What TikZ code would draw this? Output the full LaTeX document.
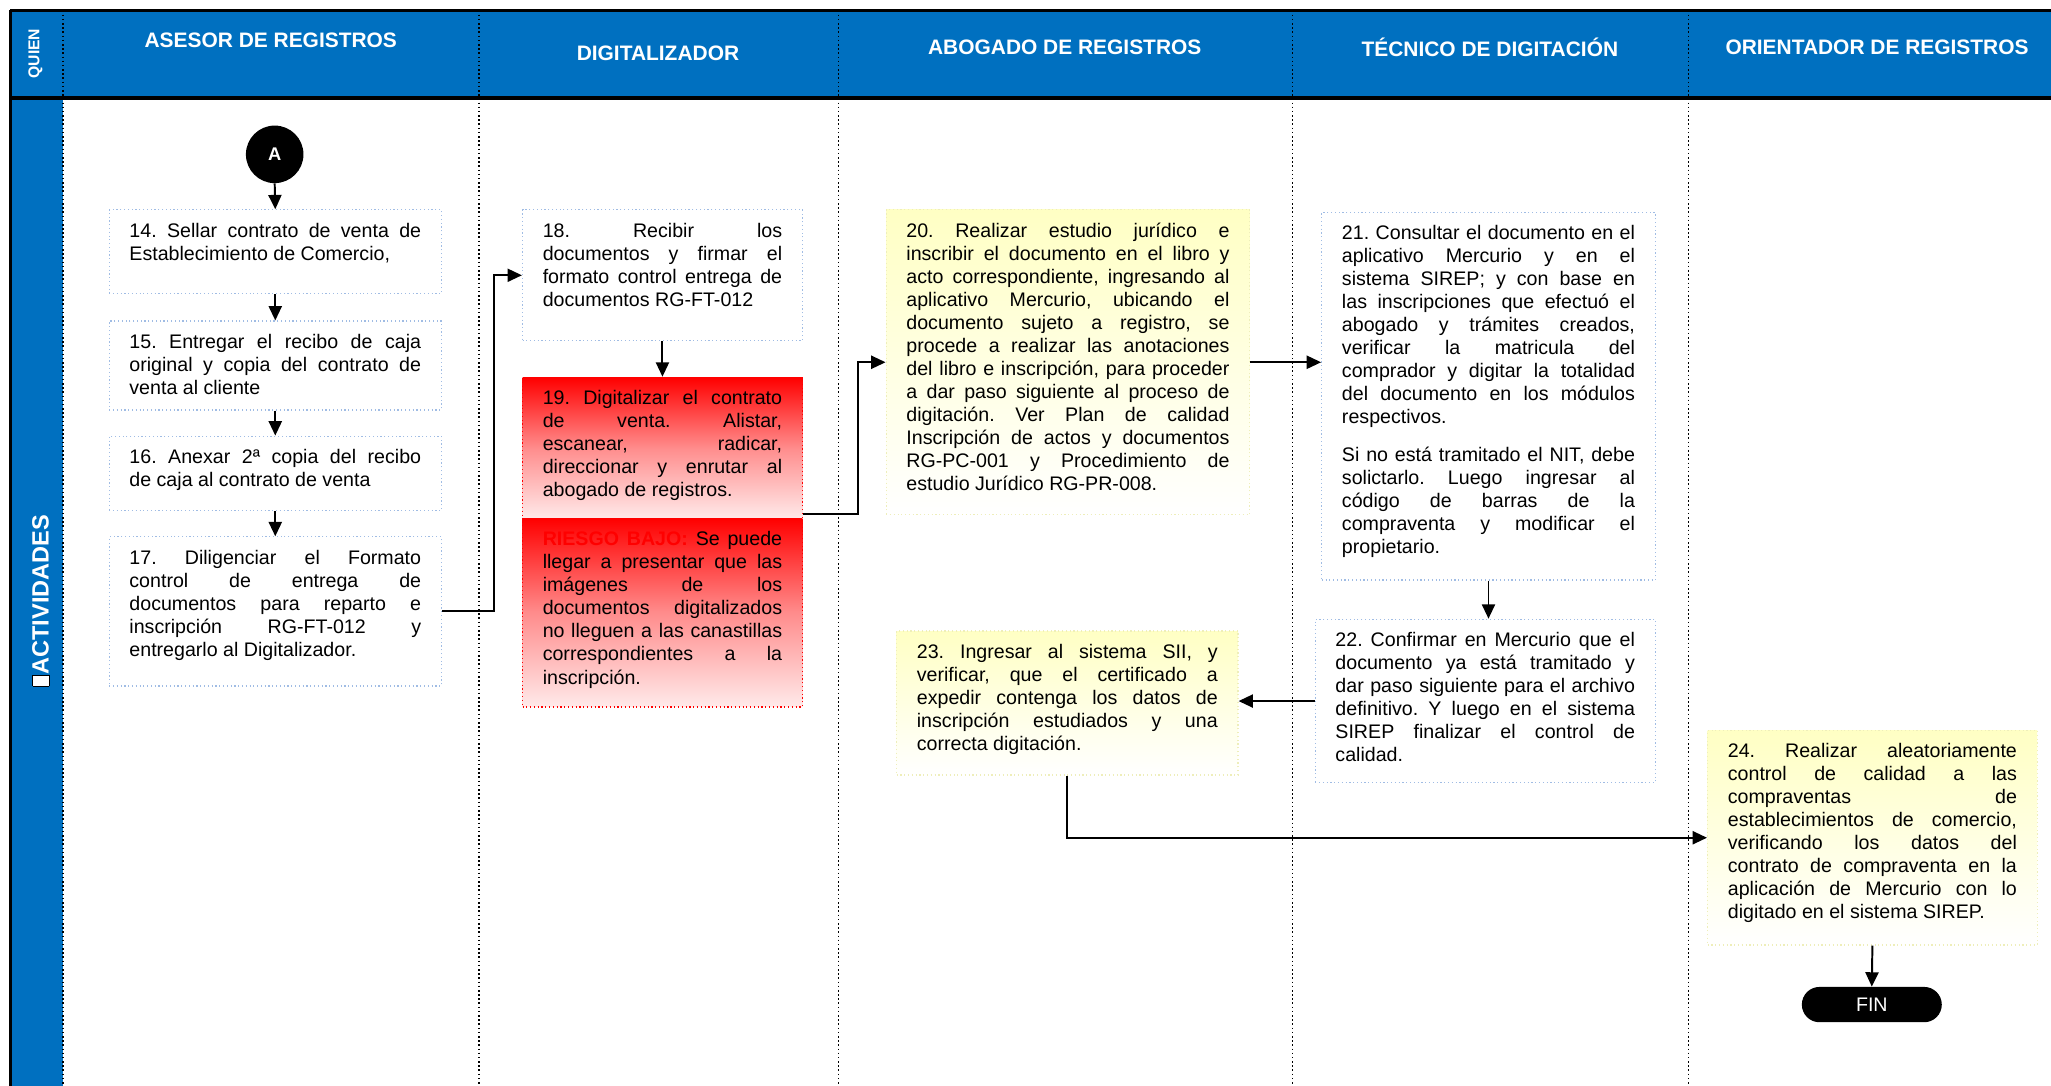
\documentclass[tikz,border=0pt]{standalone}
\usepackage{fontspec}
\setmainfont{Liberation Sans}
\usetikzlibrary{calc}
\usetikzlibrary{arrows.meta}

\definecolor{cabecera}{RGB}{0,112,192}
\definecolor{bordeazul}{RGB}{160,188,228}
\definecolor{amarillo}{RGB}{255,255,196}
\definecolor{bordeamarillo}{RGB}{238,238,186}
\definecolor{rosa}{RGB}{255,234,234}
\definecolor{rojo}{RGB}{255,0,0}

\frenchspacing
\newcommand{\caja}[3]{\parbox[c][#2pt][t]{#1pt}{\hyphenpenalty=10000\exhyphenpenalty=10000\tolerance=10000 #3}}

\tikzset{
  carril/.style={dotted, line width=1.2pt},
  paso/.style={draw=bordeazul, dotted, line width=0.9pt, inner xsep=15.5pt, inner ysep=10pt, anchor=north west, font=\fontsize{15}{17.6}\selectfont},
  pasoamarillo/.style={paso, draw=bordeamarillo, top color=amarillo, bottom color=white},
  pasorojo/.style={paso, draw=rojo, top color=rojo, bottom color=rosa, middle color=rojo!45!white},
  titulo/.style={text=white, font=\fontsize{16}{19}\bfseries},
  flecha/.style={-{Triangle[length=11pt,width=10pt]}, line width=1.5pt},
}

\begin{document}
\begin{tikzpicture}[x=1pt,y=-1pt]
\useasboundingbox (0,0) rectangle (1568,830);
\fill[cabecera] (8,8) rectangle (1568,75);
\fill[cabecera] (8,75) rectangle (48,830);
\foreach \x in {48,366,641,988,1291} \draw[carril] (\x,8) -- (\x,830);
\draw[line width=2.5pt] (8,8) -- (1568,8);
\draw[line width=2.5pt] (8,75) -- (1568,75);
\draw[line width=2.5pt] (8,8) -- (8,830);

\node[titulo, rotate=90, font=\fontsize{12}{14}\bfseries] (quien) at (27,41) {QUIEN};
\node[titulo] (asesor) at (207,31) {ASESOR DE REGISTROS};
\node[titulo] (digitalizador) at (503,41) {DIGITALIZADOR};
\node[titulo] (abogado) at (814,36) {ABOGADO DE REGISTROS};
\node[titulo] (tecnico) at (1139,36) {TÉCNICO DE DIGITACIÓN};
\node[titulo] (orientador) at (1435,36) {ORIENTADOR DE REGISTROS};
\node[titulo, rotate=90, anchor=west, font=\fontsize{18}{20}\bfseries] (actividades) at (31,528) {\fboxsep=0pt\fcolorbox{black}{white}{\rule{0pt}{12pt}\hspace{8pt}}ACTIVIDADES};

\node[circle, fill=black, minimum size=44pt, inner sep=0pt, text=white, font=\fontsize{14}{16}\bfseries] (a) at (210,118) {A};
\node[paso] (p14) at (83,160) {\caja{223}{44}{14. Sellar contrato de venta de\linebreak Establecimiento de Comercio,}};
\node[paso] (p15) at (83,245) {\caja{223}{48}{15. Entregar el recibo de caja\linebreak original y copia del contrato de\linebreak venta al cliente}};
\node[paso] (p16) at (83,333) {\caja{223}{37}{16. Anexar 2ª copia del recibo\linebreak de caja al contrato de venta}};
\node[paso] (p17) at (83,410) {\caja{223}{94}{17. Diligenciar el Formato\linebreak control de entrega de\linebreak documentos para reparto e\linebreak inscripción RG-FT-012 y\linebreak entregarlo al Digitalizador.}};

\node[paso] (p18) at (399,160) {\caja{183}{80}{18. Recibir los\linebreak documentos y firmar el\linebreak formato control entrega de\linebreak documentos RG-FT-012}};
\node[pasorojo] (p19) at (399,288) {\caja{183}{88}{19. Digitalizar el contrato\linebreak de venta. Alistar,\linebreak escanear, radicar,\linebreak direccionar y enrutar al\linebreak abogado de registros.}};
\node[pasorojo] (riesgo) at (399,396) {\caja{183}{124}{\textcolor{rojo}{\textbf{RIESGO BAJO:}} Se puede\linebreak llegar a presentar que las\linebreak imágenes de los\linebreak documentos digitalizados\linebreak no lleguen a las canastillas\linebreak correspondientes a la\linebreak inscripción.}};

\node[pasoamarillo] (p20) at (677,160) {\caja{247}{213}{20. Realizar estudio jurídico e\linebreak inscribir el documento en el libro y\linebreak acto correspondiente, ingresando al\linebreak aplicativo Mercurio, ubicando el\linebreak documento sujeto a registro, se\linebreak procede a realizar las anotaciones\linebreak del libro e inscripción, para proceder\linebreak a dar paso siguiente al proceso de\linebreak digitación. Ver Plan de calidad\linebreak Inscripción de actos y documentos\linebreak RG-PC-001 y Procedimiento de\linebreak estudio Jurídico RG-PR-008.}};
\node[pasoamarillo] (p23) at (685,482) {\caja{230}{90}{23. Ingresar al sistema SII, y\linebreak verificar, que el certificado a\linebreak expedir contenga los datos de\linebreak inscripción estudiados y una\linebreak correcta digitación.}};

\node[paso] (p21) at (1010,162) {\caja{224}{261}{21. Consultar el documento en el\linebreak aplicativo Mercurio y en el\linebreak sistema SIREP; y con base en\linebreak las inscripciones que efectuó el\linebreak abogado y trámites creados,\linebreak verificar la matricula del\linebreak comprador y digitar la totalidad\linebreak del documento en los módulos\linebreak respectivos.\par\vspace{11pt}Si no está tramitado el NIT, debe\linebreak solictarlo. Luego ingresar al\linebreak código de barras de la\linebreak compraventa y modificar el\linebreak propietario.}};
\node[paso] (p22) at (1005,473) {\caja{229}{105}{22. Confirmar en Mercurio que el\linebreak documento ya está tramitado y\linebreak dar paso siguiente para el archivo\linebreak definitivo. Y luego en el sistema\linebreak SIREP finalizar el control de\linebreak calidad.}};

\node[pasoamarillo] (p24) at (1305,558) {\caja{221}{144}{24. Realizar aleatoriamente\linebreak control de calidad a las\linebreak compraventas de\linebreak establecimientos de comercio,\linebreak verificando los datos del\linebreak contrato de compraventa en la\linebreak aplicación de Mercurio con lo\linebreak digitado en el sistema SIREP.}};
\node[fill=black, rounded corners=13.5pt, minimum width=107pt, minimum height=27pt, text=white, font=\fontsize{15}{17}\selectfont] (fin) at (1431,768) {FIN};

\draw[flecha] (a.south) -- (p14.north);
\draw[flecha] (p14.south) -- (p15.north);
\draw[flecha] (p15.south) -- (p16.north);
\draw[flecha] (p16.south) -- (p17.north);
\draw[flecha] (p17.east) -- ++(40,0) |- (p18.west);
\draw[flecha] (p18.south) -- (p19.north);
\draw[flecha] ([yshift=4pt]p19.south east) -- ++(42,0) |- (p20.west);
\draw[flecha] (p20.east) -- (p20.east -| p21.west);
\draw[flecha] (p21.south) -- (p21.south |- p22.north);
\draw[flecha] (p22.west) -- (p22.west -| p23.east);
\draw[flecha] (p23.south) |- (p24.west);
\draw[flecha] (p24.south) -- (fin.north);
\end{tikzpicture}
\end{document}
